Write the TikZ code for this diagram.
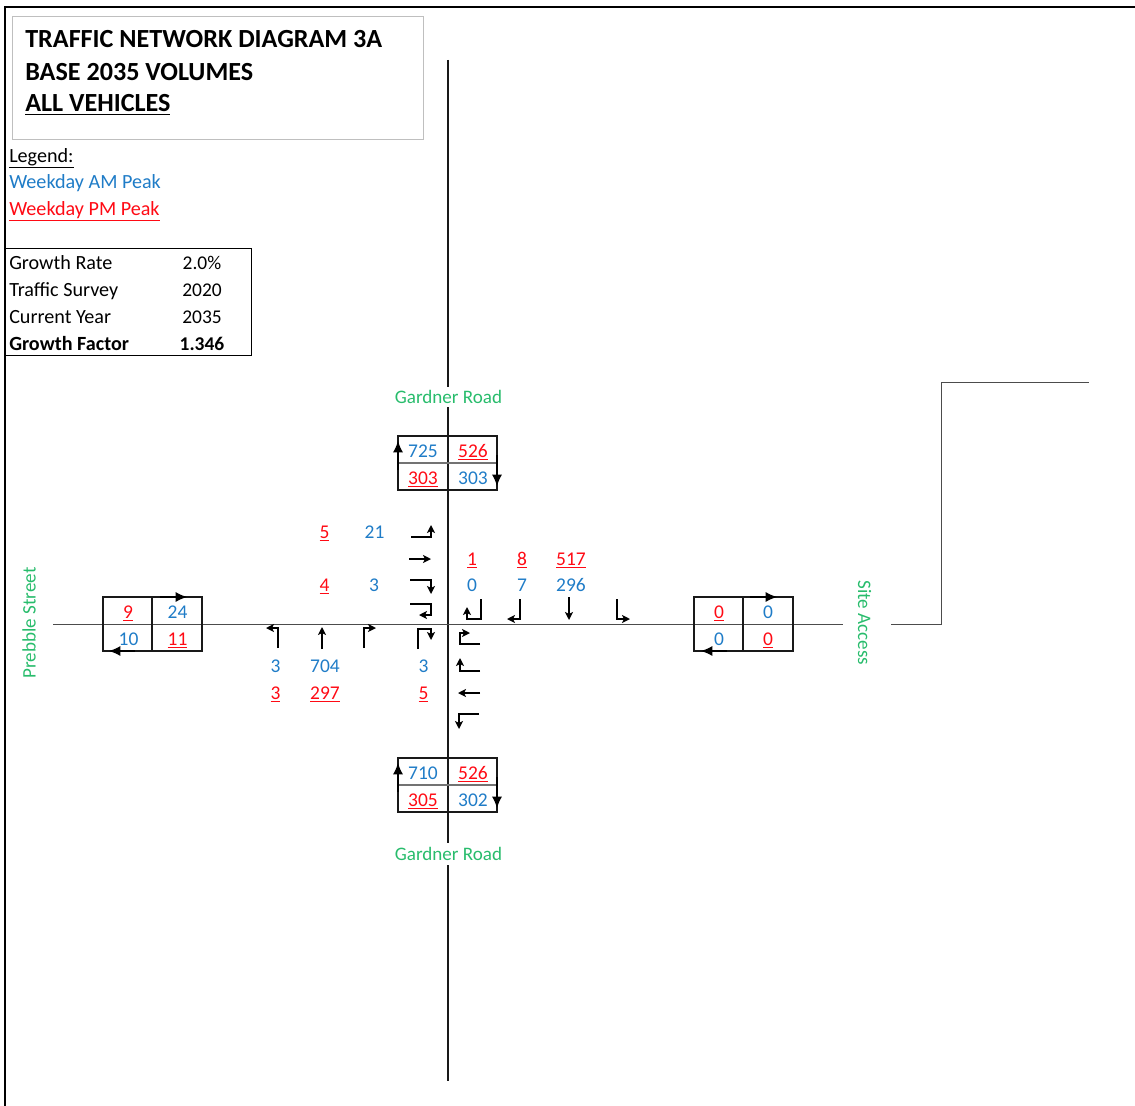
\documentclass[tikz,border=0pt]{standalone}
\usepackage{fontspec}
\setmainfont{Carlito}
\usetikzlibrary{arrows.meta}
\definecolor{amblue}{HTML}{1F7CC7}
\definecolor{pmred}{HTML}{FF0A14}
\definecolor{roadgreen}{HTML}{28BC6C}
\newcommand{\pmv}[1]{\textcolor{pmred}{\underline{#1}}}
\newcommand{\amv}[1]{\textcolor{amblue}{#1}}
\tikzset{
  lbl/.style={inner sep=0pt,anchor=base,font=\fontsize{14.6}{17}\selectfont},
  lbll/.style={inner sep=0pt,anchor=base west,font=\fontsize{15.1}{17}\selectfont},
  ttl/.style={inner sep=0pt,anchor=base west,font=\fontsize{19.6}{22}\selectfont\bfseries},
  road/.style={line width=1pt,black!90},
  roadh/.style={line width=0.75pt,black!70},
  cell/.style={line width=0.9pt,black!90},
  cellmid/.style={line width=0.8pt,black!55},
  turn/.style={line width=1.1pt,-{Stealth[length=6pt,width=6pt,inset=1.5pt]}},
  flow/.style={line width=0.9pt,-{Latex[length=8.5pt,width=7.5pt]}},
  streetname/.style={inner sep=0pt,text=roadgreen,font=\fontsize{14.3}{17}\selectfont}
}
\begin{document}
\begin{tikzpicture}[x=0.75pt,y=-0.75pt]
\useasboundingbox (0,0) rectangle (1135,1106);
% page frame
\coordinate (fTL) at (5,7); \coordinate (fTR) at (1135,7); \coordinate (fBL) at (5,1106);
\draw[line width=0.9pt] (fTR) -- (fTL) -- (fBL);
% title block
\node[draw=black!25,line width=1pt,minimum width=411*0.75pt,minimum height=123*0.75pt,inner sep=0pt,anchor=north west] (titlebox) at (11.5,16) {};
\node[ttl] (t1) at (25,48) {TRAFFIC NETWORK DIAGRAM 3A};
\node[ttl] (t2) at (25,80) {BASE 2035 VOLUMES};
\node[ttl] (t3) at (25,112) {\underline{ALL VEHICLES}};
% legend
\node[lbll] (lg) at (9,162) {\underline{Legend:}};
\node[lbll] (lgam) at (9,188) {\amv{Weekday AM Peak}};
\node[lbll] (lgpm) at (9,215) {\pmv{Weekday PM Peak}};
% growth table
\node[draw,line width=0.9pt,minimum width=246*0.75pt,minimum height=107*0.75pt,inner sep=0pt,anchor=north west] (growthbox) at (5,248) {};
\node[lbll] (g1) at (9,269) {Growth Rate};
\node[lbll] (g2) at (9,296) {Traffic Survey};
\node[lbll] (g3) at (9,323) {Current Year};
\node[lbll,font=\fontsize{15.1}{17}\selectfont\bfseries] (g4) at (9,350) {Growth Factor};
\node[lbl] (gv1) at (202,269) {2.0\%};
\node[lbl] (gv2) at (202,296) {2020};
\node[lbl] (gv3) at (202,323) {2035};
\node[lbl,font=\fontsize{14.6}{17}\selectfont\bfseries] (gv4) at (202,350) {1.346};
% street names
\node[streetname] (gnN) at (448.5,397) {Gardner Road};
\node[streetname] (gnS) at (448.5,854) {Gardner Road};
\node[streetname,rotate=90] (ps) at (29,623) {Prebble Street};
\node[streetname,rotate=-90] (sa) at (864.5,623) {Site Access};
% roads
\coordinate (vA) at (448,60); \coordinate (vB) at (448,387);
\coordinate (vC) at (448,407); \coordinate (vD) at (448,843);
\coordinate (vE) at (448,865); \coordinate (vF) at (448,1081);
\draw[road] (vA) -- (vB); \draw[road] (vC) -- (vD); \draw[road] (vE) -- (vF);
\coordinate (hA) at (53,624); \coordinate (hB) at (843,624);
\coordinate (hC) at (891,624); \coordinate (hD) at (941,624);
\coordinate (hE) at (941,382); \coordinate (hF) at (1089,382);
\draw[roadh] (hA) -- (hB);
\draw[roadh] (hC) -- (hD) -- (hE) -- (hF);
% count boxes: top
\draw[cell] (398,436) rectangle (497,490);
\draw[cellmid] (398,463) -- (497,463);
\draw[flow] (398,470) -- (398,441);
\draw[flow] (497,455) -- (497,486);
\node[lbl] (n725) at (423,457.5) {\amv{725}};
\node[lbl] (n526a) at (473,457.5) {\pmv{526}};
\node[lbl] (n303a) at (423,484) {\pmv{303}};
\node[lbl] (n303b) at (473,484) {\amv{303}};
% bottom
\draw[cell] (398,758) rectangle (497,812);
\draw[cellmid] (398,785) -- (497,785);
\draw[flow] (398,792) -- (398,763);
\draw[flow] (497,777) -- (497,808);
\node[lbl] (n710) at (423,779.5) {\amv{710}};
\node[lbl] (n526b) at (473,779.5) {\pmv{526}};
\node[lbl] (n305) at (423,806) {\pmv{305}};
\node[lbl] (n302) at (473,806) {\amv{302}};
% left
\draw[cell] (103,597) rectangle (202,651);
\draw[cell] (152,597) -- (152,651);
\draw[flow] (160,597) -- (187,597);
\draw[flow] (135,651) -- (109,651);
\node[lbl] (n9) at (128,618.5) {\pmv{9}};
\node[lbl] (n24) at (177.5,618.5) {\amv{24}};
\node[lbl] (n10) at (128.5,645) {\amv{10}};
\node[lbl] (n11) at (177.5,645) {\pmv{11}};
% right
\draw[cell] (694,597) rectangle (793,651);
\draw[cell] (743,597) -- (743,651);
\draw[flow] (750,597) -- (777,597);
\draw[flow] (727,651) -- (701,651);
\node[lbl] (n0a) at (719,618.5) {\pmv{0}};
\node[lbl] (n0b) at (768,618.5) {\amv{0}};
\node[lbl] (n0c) at (719,645) {\amv{0}};
\node[lbl] (n0d) at (768,645) {\pmv{0}};
% west approach
\node[lbl] (w5) at (324.5,538) {\pmv{5}};
\node[lbl] (w21) at (374.5,538) {\amv{21}};
\node[lbl] (w4) at (324.5,591) {\pmv{4}};
\node[lbl] (w3) at (374,591) {\amv{3}};
% north approach
\node[lbl] (n1) at (472,565) {\pmv{1}};
\node[lbl] (n8) at (522,565) {\pmv{8}};
\node[lbl] (n517) at (571,565) {\pmv{517}};
\node[lbl] (n0) at (472,591) {\amv{0}};
\node[lbl] (n7) at (522,591) {\amv{7}};
\node[lbl] (n296) at (571,591) {\amv{296}};
% south approach
\node[lbl] (s3a) at (275.5,672) {\amv{3}};
\node[lbl] (s704) at (325,672) {\amv{704}};
\node[lbl] (s3b) at (423.5,672) {\amv{3}};
\node[lbl] (s3c) at (275.5,699) {\pmv{3}};
\node[lbl] (s297) at (325,699) {\pmv{297}};
\node[lbl] (s5) at (423.5,699) {\pmv{5}};
% turning arrows, west
\draw[turn] (411,537) -- (431,537) -- (431,525);
\draw[turn] (409,559) -- (431,559);
\draw[turn] (410,580) -- (431,580) -- (431,594);
\draw[turn] (410,604) -- (431,604) -- (431,615) -- (419,615);
% turning arrows, south
\draw[turn] (278,648) -- (278,628) -- (266,628);
\draw[turn] (322,649) -- (322,627);
\draw[turn] (364,648) -- (364,628) -- (376,628);
\draw[turn] (418,649) -- (418,629) -- (431,629) -- (431,640);
% turning arrows, north
\draw[turn] (481,599) -- (481,619) -- (467,619) -- (467,607);
\draw[turn] (520,599) -- (520,619) -- (507,619);
\draw[turn] (569,597) -- (569,620);
\draw[turn] (617,599) -- (617,619) -- (630,619);
% turning arrows, east
\draw[turn] (480,644) -- (460,644) -- (460,633) -- (470,633);
\draw[turn] (480,671) -- (460,671) -- (460,658);
\draw[turn] (480,693) -- (458,693);
\draw[turn] (479,714) -- (459,714) -- (459,729);
\end{tikzpicture}
\end{document}
